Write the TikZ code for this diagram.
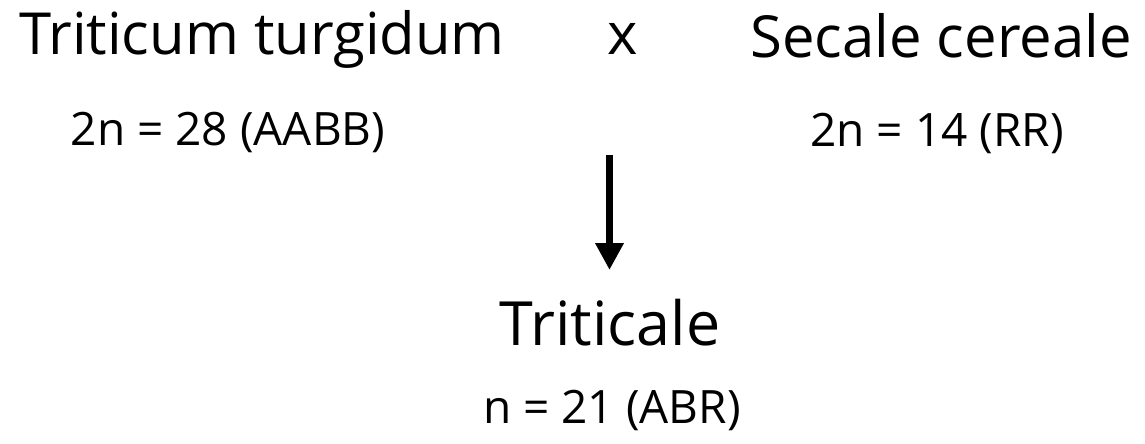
\documentclass[tikz,border=0pt]{standalone}
\usepackage{fontspec}
\setmainfont{Open Sans}
\usetikzlibrary{arrows.meta}
\begin{document}
\begin{tikzpicture}[x=1pt,y=-1pt,
  big/.style={font=\fontsize{58}{68}\selectfont, inner sep=0pt, anchor=base},
  small/.style={font=\fontsize{46}{54}\selectfont, inner sep=0pt, anchor=base}]
\useasboundingbox[fill=white] (0,0) rectangle (1145,444);
\node[big] (tt) at (262,55) {Triticum turgidum};
\node[big] (x) at (623,55) {x};
\node[big] (sc) at (941,57) {Secale cereale};
\node[small] (tt2) at (228,145) {2n = 28 (AABB)};
\node[small] (sc2) at (937,146) {2n = 14 (RR)};
\node[big, font=\fontsize{61}{70}\selectfont] (tri) at (610,345) {Triticale};
\node[small] (tri2) at (612,423) {n = 21 (ABR)};
\coordinate (a1) at (609.5,155);
\coordinate (a2) at (609.5,270);
\draw[line width=7.5pt, -{Triangle[width=27pt,length=27pt]}] (a1) -- (a2);
\end{tikzpicture}
\end{document}
